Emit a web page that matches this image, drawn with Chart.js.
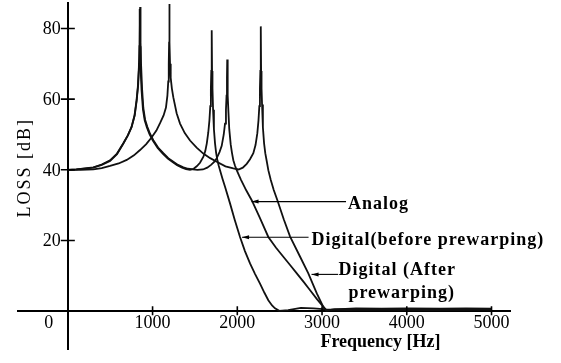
<!DOCTYPE html>
<html>
<head>
<meta charset="utf-8">
<script src="https://cdn.jsdelivr.net/npm/chart.js@4/dist/chart.umd.min.js"></script>
<style>
  html, body { margin: 0; padding: 0; background: #fff; }
</style>
</head>
<body>
<canvas id="chart" width="561" height="363"></canvas>
<script>
// loss curves, [frequency Hz, loss dB]
const analog = [
  [0,40],[100,40.1],[200,40.4],[301,40.7],[400,41.5],[498,42.7],[580,44.6],[655,47.5],[710,49.8],[754,52.2],
  [790,55.5],[813,59.7],[830,64],[842,70],[848,76],[853,86.1],[858,76],[864,70],[876,63],[891,57.5],[912,54.2],
  [938,52.2],[970,50.2],[1009,48.4],[1065,46.3],[1127,44.7],[1185,43.3],[1245,42.3],[1300,41.4],[1363,40.7],
  [1420,40.3],[1475,40.1],[1530,40.0],[1595,40.1],[1645,40.6],[1690,41.4],[1730,42.3],[1757,43.3],[1790,45],
  [1816,46.8],[1840,50],[1855,53.1],[1866,57],[1873,61],[1878,66],[1881,71.2],[1884,66],[1889,61],[1896,56],
  [1905,51.5],[1922,47.2],[1937,44.8],[1953,42.7],[1972,41.2],[1993,39.9],[2020,38.4],[2045,37.1],[2105,34.2],
  [2170,31.4],[2265,26.5],[2366,21.0],[2455,18.0],[2543,15.4],[2625,13.0],[2702,10.7],[2785,8.2],[2859,5.9],
  [2940,3.4],[3016,1.2],[3050,0.2],[3150,0.5],[3400,0.6],[3700,0.5],[4000,0.6],[4300,0.5],[4600,0.6],[5000,0.5]
];
const digitalBefore = [
  [0,40],[100,40.1],[200,40.35],[301,40.6],[400,41.4],[498,42.5],[580,44.4],[652,47.3],[705,49.6],[750,52.0],
  [786,55.3],[810,59.5],[826,63.5],[838,69],[844,75],[848,85.5],[852,75],[858,69],[870,62.5],[886,57.2],
  [907,54.0],[933,52.0],[965,50.0],[1003,48.3],[1060,46.2],[1120,44.6],[1180,43.2],[1236,42.2],[1290,41.3],
  [1348,40.6],[1395,40.2],[1442,40.0],[1485,40.3],[1521,41.0],[1560,42.0],[1600,43.7],[1622,45.3],[1640,47.5],
  [1657,50.5],[1671,54.0],[1681,58],[1688,63],[1693,68],[1698,79.5],[1702,68],[1707,63],[1714,57],[1724,51.5],
  [1737,47.5],[1750,44.8],[1765,42.7],[1780,41.2],[1796,39.9],[1825,37.5],[1855,35.2],[1914,30.5],[1970,25.8],
  [2032,21.0],[2090,17.0],[2150,13.5],[2210,10.5],[2268,7.8],[2320,5.2],[2366,3.1],[2410,1.6],[2445,0.8],
  [2495,0.1],[2600,0.3],[2750,0.9],[2900,0.8],[3050,0.5],[3300,0.3],[3700,0.4],[4200,0.3],[5000,0.4]
];
const digitalAfter = [
  [0,40],[150,40.0],[301,40.1],[400,40.5],[498,41.1],[600,41.8],[695,42.8],[780,44.1],[852,45.6],[925,47.3],
  [990,49.2],[1045,51.1],[1088,53.2],[1130,55.4],[1158,57.6],[1175,61],[1185,65],[1191,70],[1195,76],[1198,86.9],
  [1201,76],[1206,70],[1214,66],[1228,63],[1245,60.5],[1284,56.0],[1324,53.1],[1380,50.4],[1442,48.3],[1520,46.3],
  [1599,44.6],[1680,43.3],[1757,42.3],[1860,41.0],[1953,40.4],[2015,40.1],[2065,40.6],[2111,41.7],[2150,43.0],
  [2189,44.7],[2215,47],[2236,50.3],[2250,54],[2260,58],[2267,63],[2272,68],[2277,80.6],[2281,68],[2286,63],
  [2292,58.5],[2302,52],[2316,47.5],[2330,44.7],[2347,42.5],[2366,39.9],[2395,37.1],[2430,34.3],[2473,31.4],
  [2548,26.0],[2623,21.1],[2741,15.4],[2838,10.7],[2938,5.0],[3015,1.2],[3050,0.2],[3150,0.5],[3400,0.8],
  [3700,0.7],[4000,0.8],[4400,0.7],[4700,0.8],[5000,0.7]
];

const seriesNames = ['Analog', 'Digital(before prewarping)', 'Digital (After', 'prewarping)'];
const xTicks = [0, 1000, 2000, 3000, 4000, 5000];
const yTicks = [20, 40, 60, 80];
const xTitle = 'Frequency [Hz]';
const yTitle = 'LOSS [dB]';

const toPoints = arr => arr.map(([f, db]) => ({ x: f, y: db }));

function arrowLine(ctx, x1, y1, x2) {
  ctx.beginPath();
  ctx.moveTo(x1, y1);
  ctx.lineTo(x2, y1);
  ctx.stroke();
  ctx.beginPath();
  ctx.moveTo(x1, y1);
  ctx.lineTo(x1 + 7, y1 - 2);
  ctx.lineTo(x1 + 7, y1 + 2);
  ctx.closePath();
  ctx.fill();
}

// tick crosses, tick labels, axis titles and the callouts
const decor = {
  id: 'decor',
  afterDatasetsDraw(chart) {
    const { ctx, scales: { x, y } } = chart;
    const x0 = x.getPixelForValue(0);
    const y0 = y.getPixelForValue(0);
    ctx.save();
    ctx.strokeStyle = '#000';
    ctx.fillStyle = '#000';
    ctx.lineWidth = 1.6;

    ctx.beginPath();
    xTicks.forEach(v => {
      if (v === 0) return;
      const px = x.getPixelForValue(v);
      ctx.moveTo(px, y0 - 5);
      ctx.lineTo(px, y0 + 4);
    });
    yTicks.forEach(v => {
      const py = y.getPixelForValue(v);
      ctx.moveTo(x0 - 7, py);
      ctx.lineTo(x0 + 7, py);
    });
    ctx.stroke();

    ctx.font = '18px "Liberation Serif"';
    ctx.textBaseline = 'middle';
    ctx.textAlign = 'center';
    xTicks.forEach(v => {
      const px = v === 0 ? x0 - 19 : x.getPixelForValue(v);
      ctx.fillText(String(v), px, y0 + 12);
    });
    ctx.textAlign = 'right';
    yTicks.forEach(v => ctx.fillText(String(v), x0 - 7, y.getPixelForValue(v) + 1));

    ctx.textAlign = 'center';
    ctx.font = 'bold 18px "Liberation Serif"';
    ctx.fillText(xTitle, x.getPixelForValue(3690), y0 + 31);

    ctx.save();
    ctx.font = '18px "Liberation Serif"';
    ctx.letterSpacing = '2px';
    ctx.translate(x0 - 43, y.getPixelForValue(40.6));
    ctx.rotate(-Math.PI / 2);
    ctx.fillText(yTitle, 0, 0);
    ctx.restore();

    // callout leaders: start on the curve, end before the text
    ctx.lineWidth = 1.1;
    arrowLine(ctx, x.getPixelForValue(2168), y.getPixelForValue(31.0), x.getPixelForValue(3283));
    arrowLine(ctx, x.getPixelForValue(2056), y.getPixelForValue(20.9), x.getPixelForValue(2841));
    arrowLine(ctx, x.getPixelForValue(2876), y.getPixelForValue(10.4), x.getPixelForValue(3189));

    ctx.font = 'bold 18px "Liberation Serif"';
    ctx.letterSpacing = '1px';
    ctx.textAlign = 'left';
    ctx.textBaseline = 'alphabetic';
    ctx.fillText(seriesNames[0], x.getPixelForValue(3307), y.getPixelForValue(28.9));
    ctx.fillText(seriesNames[1], x.getPixelForValue(2876), y.getPixelForValue(18.7));
    ctx.fillText(seriesNames[2], x.getPixelForValue(3195), y.getPixelForValue(10.2));
    ctx.fillText(seriesNames[3], x.getPixelForValue(3311), y.getPixelForValue(3.7));
    ctx.restore();
  }
};

const lineStyle = {
  borderColor: '#111',
  borderWidth: 1.8,
  pointRadius: 0,
  fill: false,
  tension: 0
};

// only the zero lines of each scale are drawn, they act as the axes
const axisAtZero = c => (c.tick && Math.abs(c.tick.value) < 1e-6 ? '#000' : 'rgba(0,0,0,0)');

new Chart(document.getElementById('chart'), {
  type: 'line',
  data: {
    datasets: [
      { label: seriesNames[0], data: toPoints(analog), ...lineStyle },
      { label: seriesNames[1], data: toPoints(digitalBefore), ...lineStyle },
      { label: seriesNames[2], data: toPoints(digitalAfter), ...lineStyle }
    ]
  },
  options: {
    responsive: false,
    animation: false,
    layout: { padding: { left: 17, right: 50, top: 2, bottom: 13 } },
    plugins: { legend: { display: false }, tooltip: { enabled: false } },
    scales: {
      x: {
        type: 'linear',
        min: -600,
        max: 5230,
        afterBuildTicks: s => { s.ticks = xTicks.map(v => ({ value: v })); },
        ticks: { display: false },
        border: { display: false },
        grid: { color: axisAtZero, lineWidth: 2, drawTicks: false }
      },
      y: {
        min: -11,
        max: 87.5,
        afterBuildTicks: s => { s.ticks = [0, ...yTicks].map(v => ({ value: v })); },
        ticks: { display: false },
        border: { display: false },
        grid: { color: axisAtZero, lineWidth: 2, drawTicks: false }
      }
    }
  },
  plugins: [decor]
});
</script>
</body>
</html>
